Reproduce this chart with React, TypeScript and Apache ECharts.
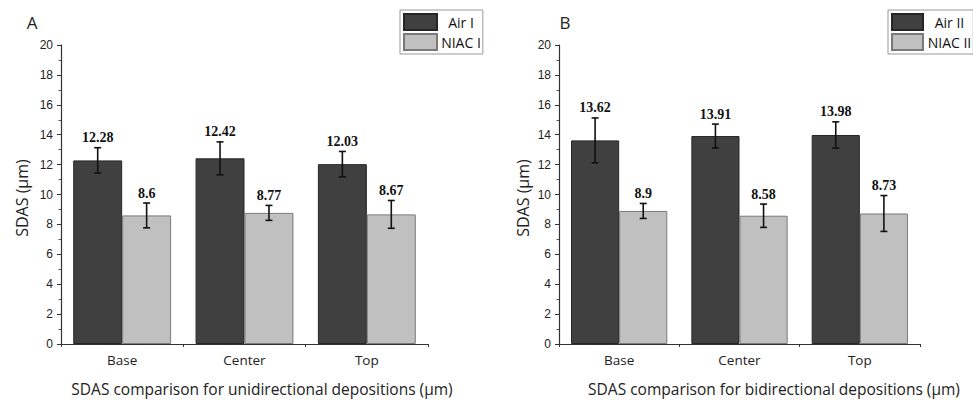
import React, { useEffect, useRef } from "react";
import * as echarts from "echarts";

const categories = ["Base", "Center", "Top"];
const airI = [12.28, 12.42, 12.03];
const airIErr = [0.85, 1.1, 0.85];
const niacI = [8.6, 8.77, 8.67];
const niacIErr = [0.83, 0.5, 0.93];
const airII = [13.62, 13.91, 13.98];
const airIIErr = [1.5, 0.8, 0.88];
const niacII = [8.9, 8.58, 8.73];
const niacIIErr = [0.5, 0.78, 1.2];
const yTicks = { min: 0, max: 20, interval: 2 };

const AIR_COLOR = "#404040";
const AIR_BORDER = "#262626";
const NIAC_COLOR = "#c0c0c0";
const NIAC_BORDER = "#7a7a7a";
const GAP = 0.2;

function errSeries(name: string, vals: number[], errs: number[], side: number, axis: number) {
  return {
    type: "custom",
    name,
    xAxisIndex: axis,
    yAxisIndex: axis,
    clip: false,
    silent: true,
    z: 5,
    data: vals.map((v, i) => [i, v, errs[i]]),
    renderItem: (params: any, api: any) => {
      const ci = api.value(0);
      const v = api.value(1);
      const e = api.value(2);
      const band = api.size([1, 0])[0];
      const bw = (band * (1 - GAP)) / 2;
      const cx = api.coord([ci, 0])[0] + (side === 0 ? -bw / 2 : bw / 2);
      const yt = api.coord([ci, v + e])[1];
      const yb = api.coord([ci, v - e])[1];
      const cap = 3.5;
      const ls = { stroke: "#111", lineWidth: 1.6 };
      return {
        type: "group",
        children: [
          { type: "line", shape: { x1: cx, y1: yt, x2: cx, y2: yb }, style: ls },
          { type: "line", shape: { x1: cx - cap, y1: yt, x2: cx + cap, y2: yt }, style: ls },
          { type: "line", shape: { x1: cx - cap, y1: yb, x2: cx + cap, y2: yb }, style: ls },
          {
            type: "text",
            x: cx,
            y: yt - 3,
            style: {
              text: String(v),
              align: "center",
              verticalAlign: "bottom",
              font: "bold 14px 'Liberation Serif', 'Times New Roman', serif",
              fill: "#111",
            },
          },
        ],
      };
    },
  };
}

function barSeries(name: string, vals: number[], axis: number, color: string, border: string) {
  return {
    type: "bar",
    name,
    xAxisIndex: axis,
    yAxisIndex: axis,
    data: vals,
    barGap: "0%",
    barCategoryGap: GAP * 100 + "%",
    itemStyle: { color, borderColor: border, borderWidth: 1 },
  };
}

const sansAxis = "'Liberation Sans', Arial, sans-serif";
const uiFont = "'Open Sans', 'Noto Sans', sans-serif";

function xAxisDef(grid: number) {
  return {
    type: "category",
    gridIndex: grid,
    data: categories,
    axisLine: { show: true, lineStyle: { color: "#333", width: 1.2 } },
    axisTick: { show: true, length: 3, lineStyle: { color: "#333" } },
    axisLabel: { margin: 9, fontSize: 13.5, color: "#222", fontFamily: uiFont },
  };
}

function yAxisDef(grid: number) {
  return {
    type: "value",
    gridIndex: grid,
    min: yTicks.min,
    max: yTicks.max,
    interval: yTicks.interval,
    axisLine: { show: true, lineStyle: { color: "#333", width: 1.2 } },
    axisTick: { show: true, length: 4, lineStyle: { color: "#333" } },
    minorTick: { show: true, splitNumber: 2, length: 2.5, lineStyle: { color: "#555" } },
    splitLine: { show: false },
    axisLabel: { margin: 8, fontSize: 12, color: "#222", fontFamily: sansAxis },
  };
}

function legendDef(names: string[], left: number, iw: number, tw: number) {
  return {
    orient: "vertical",
    left,
    top: 10,
    padding: [3, 2, 3, 3],
    itemWidth: iw,
    itemHeight: 16,
    itemGap: 2,
    borderColor: "#999",
    borderWidth: 1,
    data: names,
    icon: "rect",
    formatter: "{a|{name}}",
    textStyle: {
      rich: {
        a: { width: tw, align: "center", fontSize: 14, color: "#111", fontFamily: uiFont },
      },
    },
  };
}

export default function App() {
  const ref = useRef<HTMLDivElement>(null);
  useEffect(() => {
    if (!ref.current) return;
    const chart = echarts.init(ref.current, null, { renderer: "svg" });
    chart.setOption({
      animation: false,
      backgroundColor: "#fff",
      grid: [
        { left: 61, top: 45, width: 367, height: 299 },
        { left: 559, top: 45, width: 361, height: 299 },
      ],
      xAxis: [xAxisDef(0), xAxisDef(1)],
      yAxis: [yAxisDef(0), yAxisDef(1)],
      legend: [
        legendDef(["Air I", "NIAC I"], 400, 33, 38),
        legendDef(["Air II", "NIAC II"], 888, 31, 43),
      ],
      series: [
        barSeries("Air I", airI, 0, AIR_COLOR, AIR_BORDER),
        barSeries("NIAC I", niacI, 0, NIAC_COLOR, NIAC_BORDER),
        barSeries("Air II", airII, 1, AIR_COLOR, AIR_BORDER),
        barSeries("NIAC II", niacII, 1, NIAC_COLOR, NIAC_BORDER),
        errSeries("errAirI", airI, airIErr, 0, 0),
        errSeries("errNiacI", niacI, niacIErr, 1, 0),
        errSeries("errAirII", airII, airIIErr, 0, 1),
        errSeries("errNiacII", niacII, niacIIErr, 1, 1),
      ],
      graphic: [
        { type: "text", x: 32, y: 22, style: { text: "A", font: `17px ${uiFont}`, fill: "#222", align: "center", verticalAlign: "middle" } },
        { type: "text", x: 565, y: 22, style: { text: "B", font: `17px ${uiFont}`, fill: "#222", align: "center", verticalAlign: "middle" } },
        { type: "text", x: 22, y: 198, rotation: Math.PI / 2, style: { text: "SDAS (µm)", font: `16px ${uiFont}`, fill: "#222", align: "center", verticalAlign: "middle" } },
        { type: "text", x: 523, y: 198, rotation: Math.PI / 2, style: { text: "SDAS (µm)", font: `16px ${uiFont}`, fill: "#222", align: "center", verticalAlign: "middle" } },
        { type: "text", x: 262, y: 389, style: { text: "SDAS comparison for unidirectional depositions (µm)", font: `15.5px ${uiFont}`, fill: "#222", align: "center", verticalAlign: "middle" } },
        { type: "text", x: 774, y: 389, style: { text: "SDAS comparison for bidirectional depositions (µm)", font: `15.5px ${uiFont}`, fill: "#222", align: "center", verticalAlign: "middle" } },
      ],
    });
    return () => chart.dispose();
  }, []);
  return <div ref={ref} style={{ width: 973, height: 400, position: "absolute", left: 0, top: 0 }} />;
}
